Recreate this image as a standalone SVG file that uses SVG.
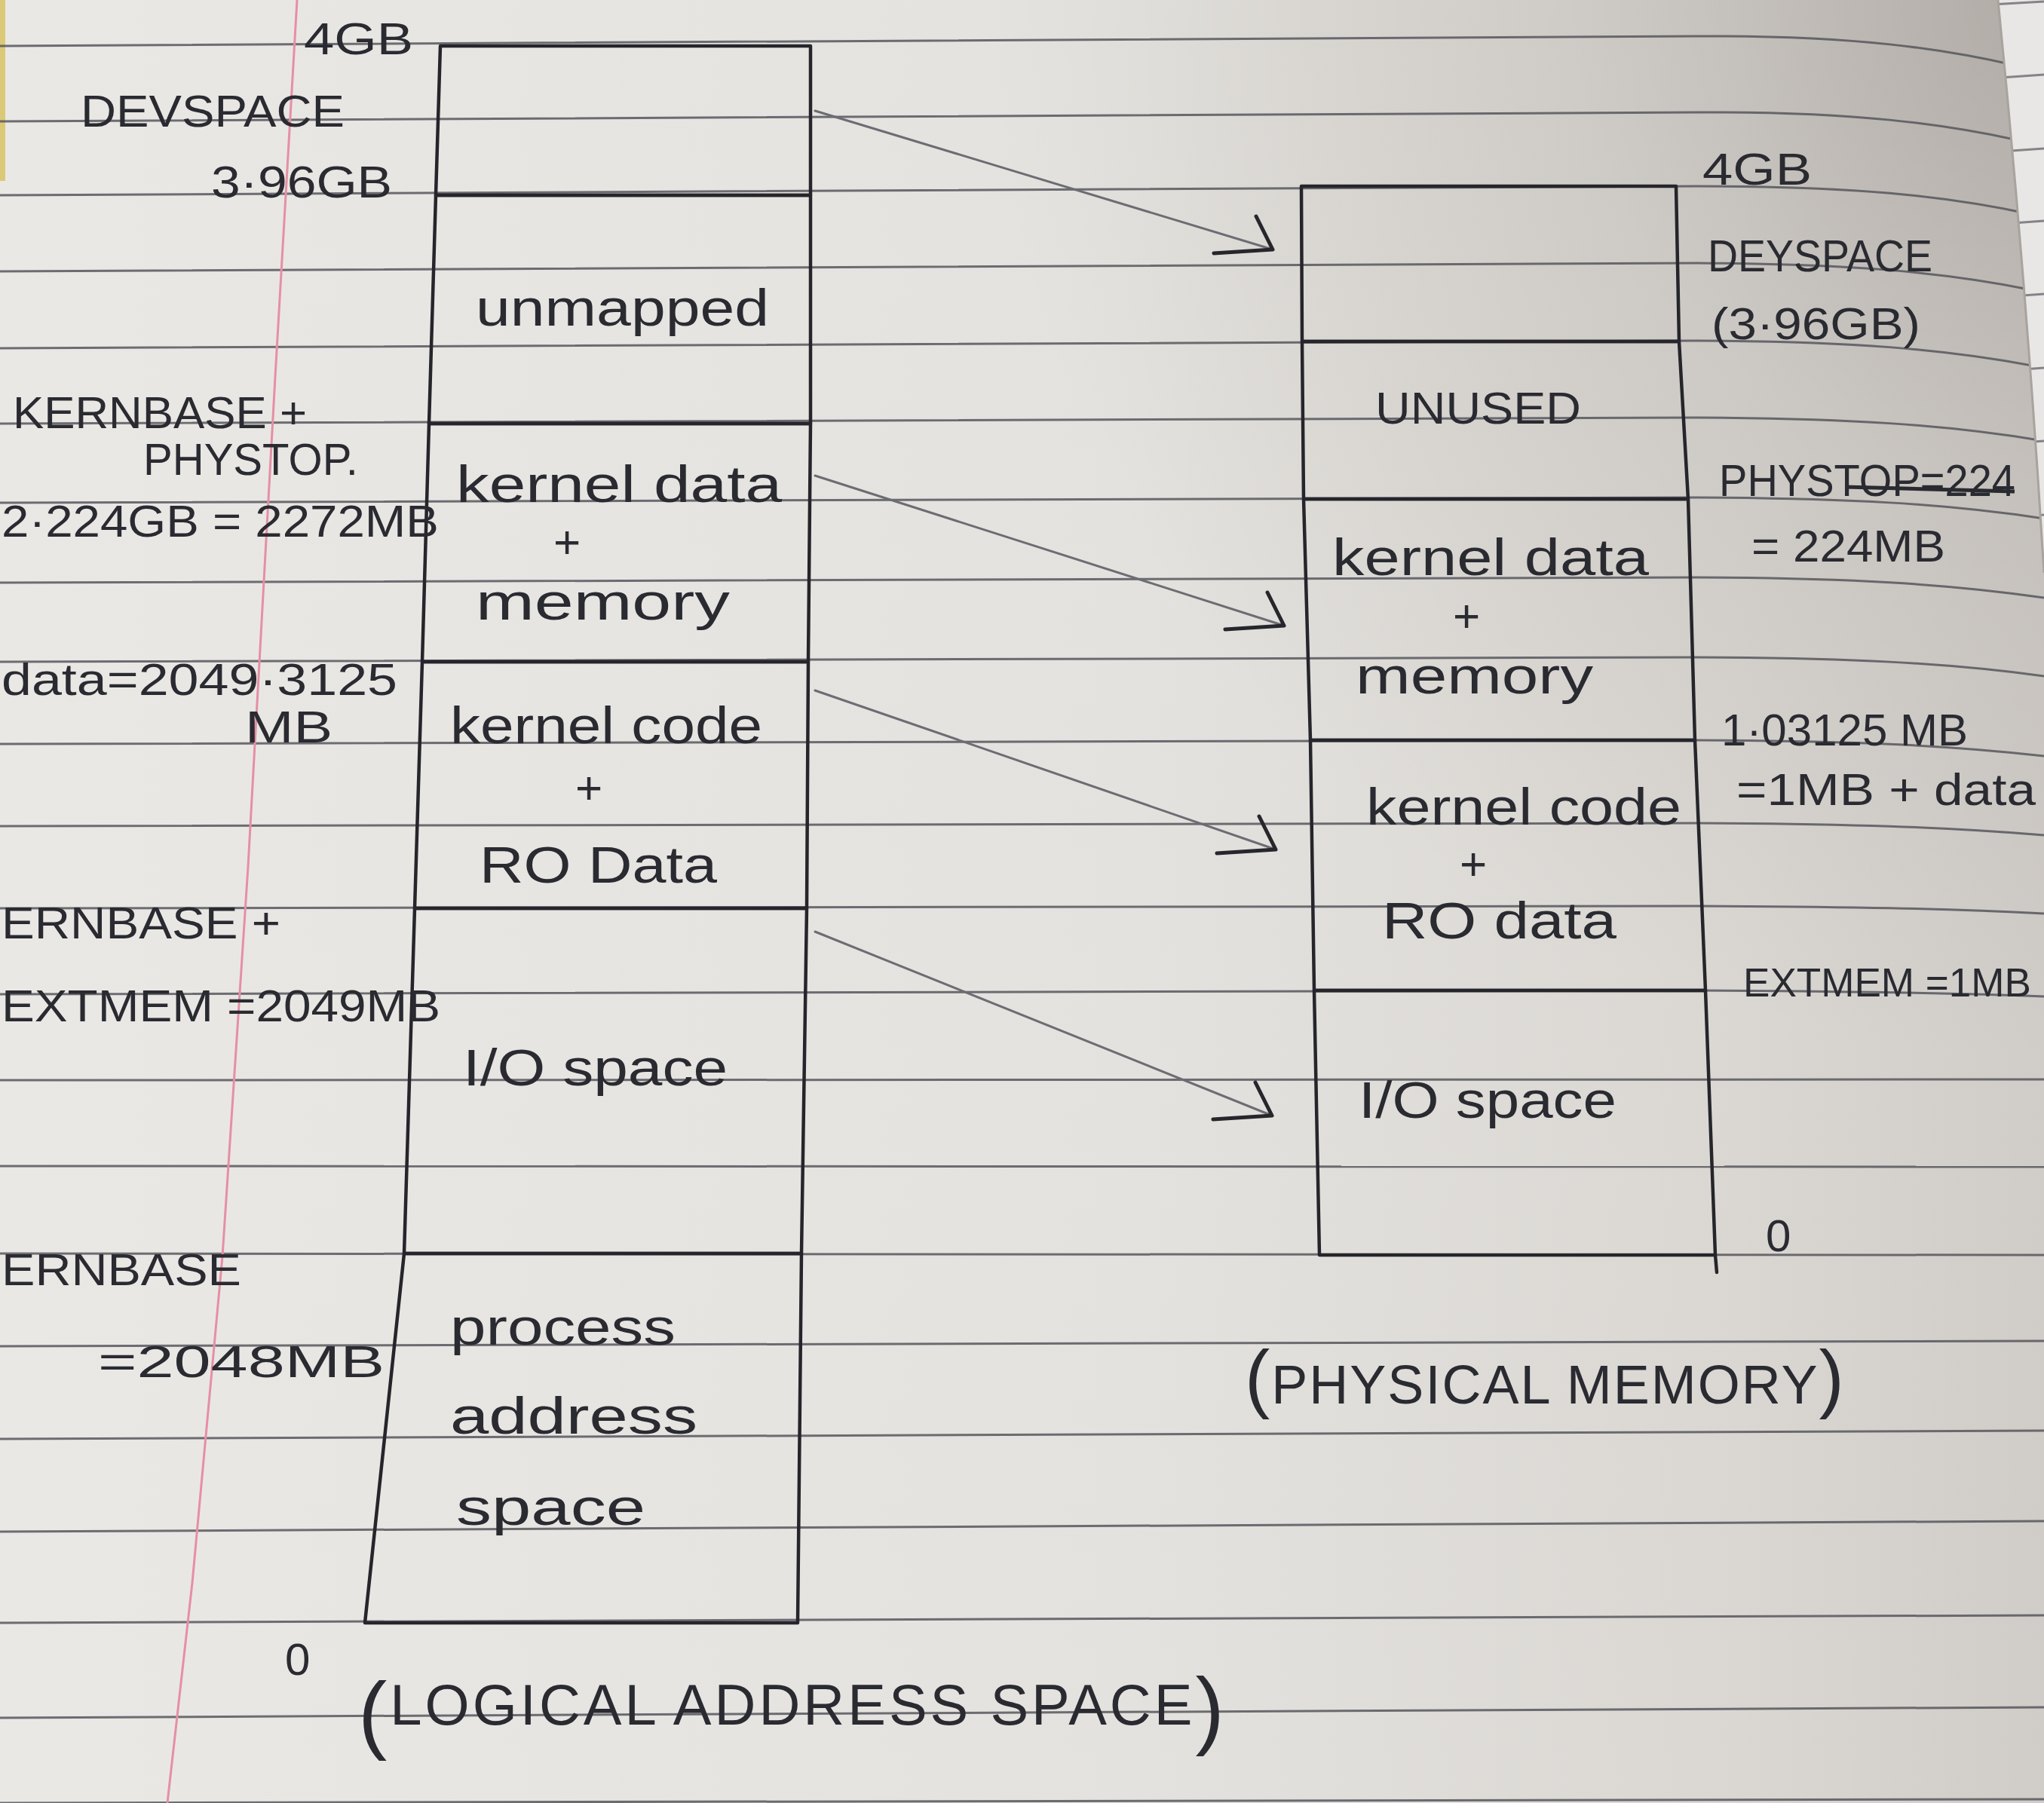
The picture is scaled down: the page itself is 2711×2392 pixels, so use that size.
<svg xmlns="http://www.w3.org/2000/svg" width="2711" height="2392" viewBox="0 0 2711 2392">
<defs>
  <linearGradient id="paper" x1="0" y1="0" x2="1" y2="0">
    <stop offset="0" stop-color="#eae8e5"/>
    <stop offset="0.55" stop-color="#e4e2de"/>
    <stop offset="0.85" stop-color="#dad7d3"/>
    <stop offset="1" stop-color="#d0ccc8"/>
  </linearGradient>
  <radialGradient id="shade" cx="2711" cy="0" r="1400" gradientUnits="userSpaceOnUse">
    <stop offset="0" stop-color="#8a837c" stop-opacity="0.45"/>
    <stop offset="0.45" stop-color="#8a837c" stop-opacity="0.17"/>
    <stop offset="1" stop-color="#8a837c" stop-opacity="0"/>
  </radialGradient>
  <clipPath id="mainPage">
    <path d="M0,0 L2650,0 Q2688,380 2711,760 L2711,2392 L0,2392 Z"/>
  </clipPath>
  <clipPath id="nextPage">
    <path d="M2650,0 L2711,0 L2711,760 Q2688,380 2650,0 Z"/>
  </clipPath>
  <marker id="ah" markerUnits="userSpaceOnUse" viewBox="-95 -60 110 80" refX="0" refY="0" markerWidth="110" markerHeight="80" orient="0" overflow="visible">
    <path d="M-22,-44 L0,0 L-78,5" fill="none" stroke="#26262c" stroke-width="5" stroke-linecap="round" stroke-linejoin="round"/>
  </marker>
</defs>
<style>
  .rule{stroke:#56565d;stroke-width:3;fill:none;opacity:0.85}
  .rule2{stroke:#6a6a70;stroke-width:3;fill:none;opacity:0.8}
  .margin{stroke:#e58fa6;stroke-width:3;fill:none}
  .box{stroke:#25252b;stroke-width:4.5;fill:none;stroke-linejoin:round;stroke-linecap:round}
  .conn{stroke:#6c6c73;stroke-width:3;fill:none;stroke-linecap:round}
  .t{font-family:"Liberation Sans",Arial,sans-serif;fill:#2a2a31}
  .lbl{font-size:60px}
  .cell{font-size:68px}
  .plus{font-size:62px}
  .strike{stroke:#2a2a31;stroke-width:5}
</style>

<g id="paper-bg">
  <rect x="0" y="0" width="2711" height="2392" fill="url(#paper)"/>
  <rect x="0" y="0" width="2711" height="2392" fill="url(#shade)"/>
  <rect x="0" y="0" width="7" height="240" fill="#d8c15c" opacity="0.8"/>
  <g clip-path="url(#mainPage)">
    <path class="rule" d="M0,61 L2250,48 C2450,47 2580,62 2711,96"/>
    <path class="rule" d="M0,161 L2250,149 C2450,148 2580,162 2711,194"/>
    <path class="rule" d="M0,259 L2250,247 C2450,247 2580,258 2711,288"/>
    <path class="rule" d="M0,360 L2250,349 C2450,350 2580,360 2711,388"/>
    <path class="rule" d="M0,462 L2250,452 C2450,453 2580,462 2711,488"/>
    <path class="rule" d="M0,562 L2250,554 C2450,555 2580,563 2711,585"/>
    <path class="rule" d="M0,667 L2250,660 C2450,661 2580,668 2711,688"/>
    <path class="rule" d="M0,773 L2250,766 C2450,767 2580,774 2711,793"/>
    <path class="rule" d="M0,878 L2250,872 C2450,873 2580,879 2711,897"/>
    <path class="rule" d="M0,987 L2250,982 C2450,983 2580,988 2711,1003"/>
    <path class="rule" d="M0,1096 L2250,1092 C2450,1093 2580,1097 2711,1108"/>
    <path class="rule" d="M0,1205 L2250,1202 C2450,1203 2580,1205 2711,1212"/>
    <path class="rule" d="M0,1319 L2250,1314 C2450,1315 2580,1317 2711,1322"/>
    <path class="rule" d="M0,1433 L2711,1432"/>
    <path class="rule" d="M0,1547 L2711,1548"/>
    <path class="rule" d="M0,1663 L2711,1665"/>
    <path class="rule" d="M0,1786 L2711,1779"/>
    <path class="rule" d="M0,1909 L2711,1898"/>
    <path class="rule" d="M0,2032 L2711,2018"/>
    <path class="rule" d="M0,2153 L2711,2143"/>
    <path class="rule" d="M0,2279 L2711,2265"/>
    <path class="rule" d="M0,2392 L2711,2387"/>
  </g>
  <path class="margin" d="M394,0 L365,500 L329,1150 L295,1667 L255,2100 L222,2392"/>
  <g clip-path="url(#nextPage)">
    <rect x="2640" y="0" width="80" height="770" fill="#e8e7e5"/>
    <path class="rule2" d="M2640,6 L2711,2"/>
    <path class="rule2" d="M2640,104 L2711,99"/>
    <path class="rule2" d="M2640,202 L2711,197"/>
    <path class="rule2" d="M2640,298 L2711,293"/>
    <path class="rule2" d="M2640,395 L2711,390"/>
    <path class="rule2" d="M2640,493 L2711,488"/>
    <path class="rule2" d="M2640,590 L2711,585"/>
    <path class="rule2" d="M2640,688 L2711,683"/>
  </g>
  <path d="M2650,0 Q2688,380 2711,760" stroke="#a9a39d" stroke-width="3" fill="none"/>
</g>

<g id="logical-address-space">
  <g id="la-devspace">
    <polygon class="box" points="584,61 1075,61 1075,259 578,259"/>
  </g>
  <g id="la-unmapped">
    <polygon class="box" points="578,259 1075,259 1075,562 569,562"/>
    <text class="t cell" x="631" y="432" textLength="389" lengthAdjust="spacingAndGlyphs">unmapped</text>
  </g>
  <g id="la-kernel-data">
    <polygon class="box" points="569,562 1075,562 1072,878 560,878"/>
    <text class="t cell" x="605" y="666" textLength="432" lengthAdjust="spacingAndGlyphs">kernel data</text>
    <text class="t plus" x="752" y="740" text-anchor="middle">+</text>
    <text class="t cell" x="631" y="822" textLength="337" lengthAdjust="spacingAndGlyphs">memory</text>
  </g>
  <g id="la-kernel-code">
    <polygon class="box" points="560,878 1072,878 1070,1205 550,1205"/>
    <text class="t cell" x="597" y="986" textLength="414" lengthAdjust="spacingAndGlyphs">kernel code</text>
    <text class="t plus" x="781" y="1066" text-anchor="middle">+</text>
    <text class="t cell" x="636" y="1171" textLength="315" lengthAdjust="spacingAndGlyphs">RO Data</text>
  </g>
  <g id="la-io-space">
    <polygon class="box" points="550,1205 1070,1205 1063,1663 536,1663"/>
    <text class="t cell" x="614" y="1440" textLength="351" lengthAdjust="spacingAndGlyphs">I/O space</text>
  </g>
  <g id="la-process">
    <polygon class="box" points="536,1663 1063,1663 1058,2153 484,2153"/>
    <text class="t cell" x="597" y="1784" textLength="299" lengthAdjust="spacingAndGlyphs">process</text>
    <text class="t cell" x="597" y="1902" textLength="328" lengthAdjust="spacingAndGlyphs">address</text>
    <text class="t cell" x="605" y="2023" textLength="251" lengthAdjust="spacingAndGlyphs">space</text>
  </g>
</g>

<g id="physical-memory">
  <g id="pm-devspace">
    <polygon class="box" points="1726,247 2223,247 2227,453 1727,453"/>
  </g>
  <g id="pm-unused">
    <polygon class="box" points="1727,453 2227,453 2239,662 1729,662"/>
    <text class="t lbl" x="1824" y="562" textLength="273" lengthAdjust="spacingAndGlyphs">UNUSED</text>
  </g>
  <g id="pm-kernel-data">
    <polygon class="box" points="1729,662 2239,662 2248,982 1738,982"/>
    <text class="t cell" x="1767" y="763" textLength="420" lengthAdjust="spacingAndGlyphs">kernel data</text>
    <text class="t plus" x="1945" y="838" text-anchor="middle">+</text>
    <text class="t cell" x="1798" y="920" textLength="315" lengthAdjust="spacingAndGlyphs">memory</text>
  </g>
  <g id="pm-kernel-code">
    <polygon class="box" points="1738,982 2248,982 2262,1314 1743,1314"/>
    <text class="t cell" x="1812" y="1094" textLength="418" lengthAdjust="spacingAndGlyphs">kernel code</text>
    <text class="t plus" x="1954" y="1167" text-anchor="middle">+</text>
    <text class="t cell" x="1833" y="1245" textLength="311" lengthAdjust="spacingAndGlyphs">RO data</text>
  </g>
  <g id="pm-io-space">
    <polygon class="box" points="1743,1314 2262,1314 2275,1665 1750,1665"/>
    <path class="box" d="M2275,1665 L2277,1688"/>
    <text class="t cell" x="1802" y="1483" textLength="342" lengthAdjust="spacingAndGlyphs">I/O space</text>
  </g>
</g>

<g id="connectors">
  <path class="conn" d="M1081,147 L1688,331" marker-end="url(#ah)"/>
  <path class="conn" d="M1081,631 L1703,830" marker-end="url(#ah)"/>
  <path class="conn" d="M1081,916 L1692,1127" marker-end="url(#ah)"/>
  <path class="conn" d="M1081,1236 L1687,1480" marker-end="url(#ah)"/>
</g>

<g id="logical-labels">
  <text class="t lbl" x="403" y="72" textLength="145" lengthAdjust="spacingAndGlyphs">4GB</text>
  <text class="t lbl" x="107" y="168" textLength="350" lengthAdjust="spacingAndGlyphs">DEVSPACE</text>
  <text class="t lbl" x="280" y="262" textLength="240" lengthAdjust="spacingAndGlyphs">3·96GB</text>
  <text class="t lbl" x="17" y="568" textLength="390" lengthAdjust="spacingAndGlyphs">KERNBASE +</text>
  <text class="t lbl" x="190" y="630" textLength="285" lengthAdjust="spacingAndGlyphs">PHYSTOP.</text>
  <text class="t lbl" x="2" y="712" textLength="580" lengthAdjust="spacingAndGlyphs">2·224GB = 2272MB</text>
  <text class="t lbl" x="2" y="922" textLength="525" lengthAdjust="spacingAndGlyphs">data=2049·3125</text>
  <text class="t lbl" x="325" y="985" textLength="116" lengthAdjust="spacingAndGlyphs">MB</text>
  <text class="t lbl" x="2" y="1245" textLength="370" lengthAdjust="spacingAndGlyphs">ERNBASE +</text>
  <text class="t lbl" x="2" y="1355" textLength="582" lengthAdjust="spacingAndGlyphs">EXTMEM =2049MB</text>
  <text class="t lbl" x="2" y="1705" textLength="318" lengthAdjust="spacingAndGlyphs">ERNBASE</text>
  <text class="t lbl" x="130" y="1827" textLength="380" lengthAdjust="spacingAndGlyphs">=2048MB</text>
  <text class="t lbl" x="378" y="2222" font-size="66">0</text>
  <text class="t" x="475" y="2312" font-size="76" letter-spacing="4"><tspan font-size="115">(</tspan><tspan dy="-24">LOGICAL ADDRESS SPACE</tspan><tspan font-size="115" dy="18">)</tspan></text>
</g>

<g id="physical-labels">
  <text class="t lbl" x="2258" y="245" textLength="145" lengthAdjust="spacingAndGlyphs">4GB</text>
  <text class="t lbl" x="2265" y="360" textLength="298" lengthAdjust="spacingAndGlyphs">DEYSPACE</text>
  <text class="t lbl" x="2270" y="450" textLength="277" lengthAdjust="spacingAndGlyphs">(3·96GB)</text>
  <text class="t lbl" x="2280" y="658" textLength="393" lengthAdjust="spacingAndGlyphs">PHYSTOP=224</text>
  <line class="strike" x1="2448" y1="646" x2="2672" y2="652"/>
  <text class="t lbl" x="2323" y="745" textLength="257" lengthAdjust="spacingAndGlyphs">= 224MB</text>
  <text class="t lbl" x="2283" y="989" textLength="327" lengthAdjust="spacingAndGlyphs">1·03125 MB</text>
  <text class="t lbl" x="2303" y="1068" textLength="397" lengthAdjust="spacingAndGlyphs">=1MB + data</text>
  <text class="t" x="2312" y="1322" font-size="54" textLength="382" lengthAdjust="spacingAndGlyphs">EXTMEM =1MB</text>
  <text class="t lbl" x="2342" y="1660" font-size="66">0</text>
  <text class="t" x="1651" y="1862" font-size="72" letter-spacing="2"><tspan font-size="100">(</tspan>PHYSICAL MEMORY<tspan font-size="100">)</tspan></text>
</g>
</svg>
